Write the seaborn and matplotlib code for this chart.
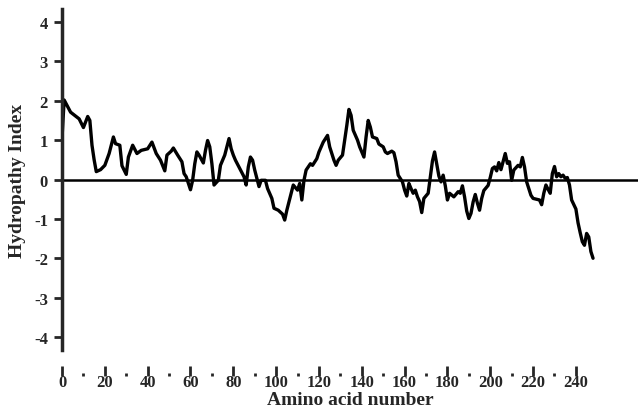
import matplotlib
matplotlib.use("Agg")
import matplotlib.pyplot as plt
import seaborn as sns
import pandas as pd
from matplotlib.ticker import FixedLocator

# hydropathy profile (residue number, index)
residue = [0, 1, 4, 8, 10, 12, 13, 14, 15, 16, 18, 20, 22, 24, 25, 27, 28, 30, 31, 33,
           35, 37, 40, 42, 44, 46, 48, 49, 51, 52, 54, 56, 57, 58, 60, 61, 62, 63, 64, 66,
           67, 68, 69, 70, 71, 73, 74, 75, 76, 78, 79, 80, 81, 83, 85, 86, 87, 88, 89, 90,
           92, 93, 95, 96, 98, 99, 101, 103, 104, 105, 107, 108, 110, 111, 112, 113, 114, 116, 117, 119,
           120, 122, 124, 125, 127, 128, 129, 131, 132, 133, 134, 135, 136, 138, 139, 141, 142, 143, 144, 145,
           147, 148, 150, 151, 152, 154, 155, 156, 157, 159, 160, 161, 162, 163, 164, 165, 166, 167, 168, 169,
           171, 172, 173, 174, 175, 176, 177, 178, 179, 180, 181, 183, 185, 186, 187, 188, 189, 190, 191, 192,
           193, 194, 195, 196, 197, 199, 200, 201, 202, 203, 204, 205, 206, 207, 208, 209, 210, 211, 213, 214,
           215, 216, 217, 218, 219, 220, 223, 224, 225, 226, 227, 228, 229, 230, 231, 232, 233, 234, 235, 236,
           237, 238, 240, 241, 242, 243, 244, 245, 246, 247, 248]
hydropathy = [1.05, 2.02, 1.71, 1.54, 1.32, 1.60, 1.50, 0.87, 0.50, 0.20, 0.25, 0.36, 0.66, 1.08, 0.91, 0.87, 0.35, 0.13, 0.57, 0.87,
              0.66, 0.74, 0.78, 0.95, 0.66, 0.49, 0.22, 0.62, 0.72, 0.80, 0.62, 0.45, 0.15, 0.07, -0.26, -0.02, 0.40, 0.70, 0.62, 0.42,
              0.74, 0.99, 0.83, 0.40, -0.14, -0.02, 0.36, 0.49, 0.62, 1.04, 0.78, 0.62, 0.49, 0.28, 0.07, -0.14, 0.32, 0.57, 0.49, 0.24,
              -0.18, -0.02, -0.02, -0.23, -0.48, -0.73, -0.78, -0.88, -1.03, -0.78, -0.35, -0.14, -0.27, -0.10, -0.52, -0.02, 0.24, 0.40, 0.36, 0.53,
              0.70, 0.95, 1.12, 0.83, 0.49, 0.36, 0.49, 0.62, 1.00, 1.37, 1.78, 1.63, 1.25, 1.00, 0.83, 0.57, 1.08, 1.50, 1.33, 1.08,
              1.04, 0.90, 0.83, 0.70, 0.66, 0.72, 0.68, 0.45, 0.11, -0.06, -0.27, -0.42, -0.10, -0.23, -0.35, -0.27, -0.44, -0.56, -0.84, -0.48,
              -0.35, 0.05, 0.47, 0.70, 0.40, 0.09, -0.06, 0.11, -0.16, -0.52, -0.35, -0.44, -0.31, -0.35, -0.16, -0.44, -0.80, -0.99, -0.86, -0.57,
              -0.38, -0.60, -0.78, -0.48, -0.28, -0.15, 0.05, 0.28, 0.32, 0.22, 0.43, 0.25, 0.45, 0.66, 0.41, 0.45, -0.02, 0.24, 0.36, 0.32,
              0.56, 0.32, -0.06, -0.23, -0.40, -0.48, -0.52, -0.64, -0.35, -0.14, -0.25, -0.35, 0.15, 0.33, 0.07, 0.15, 0.07, 0.11, 0.03, 0.05,
              -0.14, -0.52, -0.75, -1.10, -1.35, -1.58, -1.67, -1.37, -1.46, -1.83, -2.00]

x_major = list(range(0, 241, 20))
x_minor = list(range(10, 231, 20))
y_ticks = [-4, -3, -2, -1, 0, 1, 2, 3, 4]

df = pd.DataFrame({'Amino acid number': residue, 'Hydropathy Index': hydropathy})

sns.set_style('ticks')
plt.rcParams['font.family'] = ['Liberation Serif', 'DejaVu Serif']
plt.rcParams['font.weight'] = 'bold'

fig = plt.figure(figsize=(6.38, 4.10), dpi=100)
ax = fig.add_axes([0.0972, 0.1439, 0.9028, 0.8317])

sns.lineplot(data=df, x='Amino acid number', y='Hydropathy Index',
             color='black', linewidth=2.4, ax=ax)
ax.axhline(0, color='black', linewidth=1.8)

ax.set_xlim(0, 269)
ax.set_ylim(-4.33, 4.33)

ax.set_yticks(y_ticks)
ax.set_yticklabels([str(v) for v in y_ticks])
ax.set_xticks(x_major)
ax.set_xticklabels([str(v) for v in x_major])
ax.xaxis.set_minor_locator(FixedLocator(x_minor))

for side in ['top', 'right']:
    ax.spines[side].set_visible(False)
ax.spines['left'].set_linewidth(2.5)
ax.spines['bottom'].set_position(('outward', 19))
ax.spines['bottom'].set_color('none')

ax.tick_params(axis='y', direction='out', length=6, width=2, labelsize=12, pad=4)
ax.tick_params(axis='x', which='major', direction='in', length=7, width=2, labelsize=12, pad=-2)
ax.tick_params(axis='x', which='minor', direction='in', length=2, width=2)

ax.set_xlabel('Amino acid number', fontsize=14, fontweight='bold', labelpad=1)
ax.set_ylabel('Hydropathy Index', fontsize=14, fontweight='bold', labelpad=6)

fig.savefig('out.png', dpi=100)
